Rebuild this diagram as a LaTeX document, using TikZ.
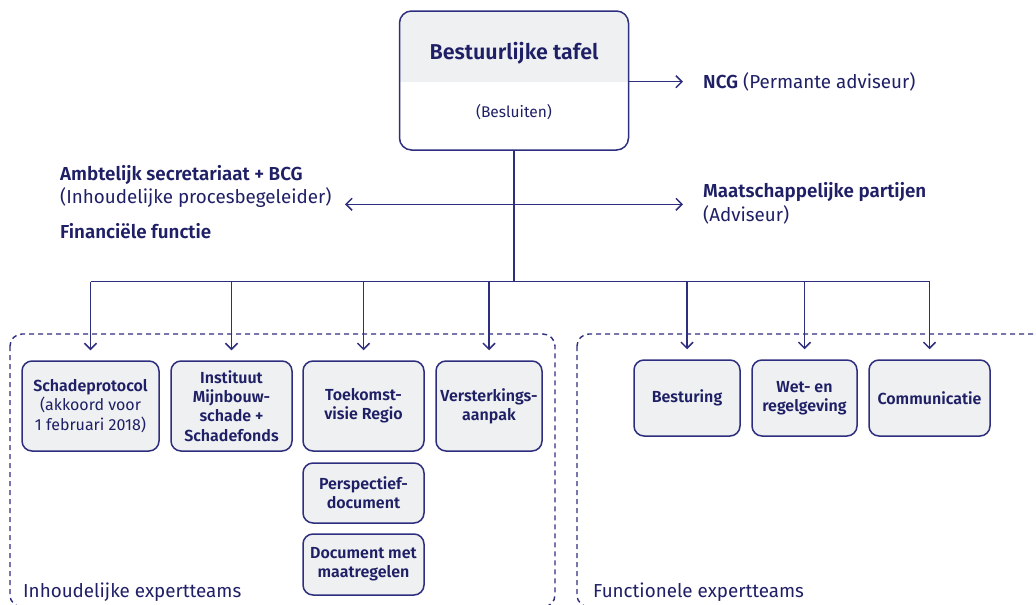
\documentclass[tikz,border=0pt]{standalone}
\usepackage{fontspec}
\IfFontExistsTF{Fira Sans SemiBold}
  {\setmainfont{Fira Sans}[BoldFont={Fira Sans SemiBold}]}
  {\setmainfont{Fira Sans}}
\usetikzlibrary{arrows.meta}
\definecolor{navy}{HTML}{1F1F66}
\definecolor{linec}{HTML}{2E2E7E}
\definecolor{boxfill}{HTML}{EEF0F1}
\begin{document}
\begin{tikzpicture}[x=1pt,y=-1pt,
  team/.style={draw=linec, fill=boxfill, rounded corners=10pt, line width=1.5pt,
    text=navy, font=\fontsize{16}{19.3}\selectfont, align=center, inner sep=2pt},
  conn/.style={draw=linec, line width=1.5pt},
  tip/.tip={Straight Barb[length=6pt,width=12pt]},
  arr/.style={conn, -tip},
  lbl/.style={text=navy, inner sep=0pt, anchor=west, font=\fontsize{18.8}{22}\selectfont},
  grp/.style={draw=linec, line width=1.4pt, dash pattern=on 5pt off 4pt, rounded corners=12pt}
]
\useasboundingbox (0,0) rectangle (1036,605);
\clip (0,0) rectangle (1036,605);

% group frames
\draw[grp] (10,334) rectangle (555,607);
\draw[grp] (577,334) rectangle (1050,607);
\node[lbl] (inhlbl) at (23,592) {Inhoudelijke expertteams};
\node[lbl] (funlbl) at (593,592) {Functionele expertteams};

% top box
\begin{scope}
  \clip[rounded corners=12pt] (399.5,11) rectangle (628.5,150);
  \fill[boxfill] (399.5,11) rectangle (628.5,81.7);
\end{scope}
\node[draw=linec, line width=1.5pt, rounded corners=12pt, minimum width=229pt,
  minimum height=139pt, inner sep=0pt] (top) at (514,80.5) {};
\node[text=navy, font=\bfseries\fontsize{21.5}{25}\selectfont] (toptitle) at (514,53) {Bestuurlijke tafel};
\node[text=navy, font=\fontsize{15.5}{18}\selectfont] (topsub) at (514,112) {(Besluiten)};

% side texts
\node[lbl] (ncg) at (703,81.7) {\textbf{NCG} (Permante adviseur)};
\node[lbl] (maat) at (703,192) {\textbf{Maatschappelijke partijen}};
\node[lbl] (adv) at (703,215) {(Adviseur)};
\node[lbl] (amb) at (60,175) {\textbf{Ambtelijk secretariaat + BCG}};
\node[lbl] (inh) at (60,198) {(Inhoudelijke procesbegeleider)};
\node[lbl] (fin) at (60,231) {\textbf{Financiële functie}};

\coordinate (ncgend) at (683,81.7);
\draw[arr] (top.east |- ncgend) -- (ncgend);
\coordinate (dl) at (345,204.3);
\coordinate (dr) at (683,204.3);
\draw[conn, tip-tip] (dl) -- (dr);

% expert team boxes
\node[team, minimum width=137pt, minimum height=90pt] (s1) at (90.5,406)
  {\textbf{Schadeprotocol}\\(akkoord voor\\1 februari 2018)};
\node[team, minimum width=121pt, minimum height=90pt] (s2) at (231.5,406)
  {\textbf{Instituut}\\\textbf{Mijnbouw-}\\\textbf{schade +}\\\textbf{Schadefonds}};
\node[team, minimum width=121pt, minimum height=90pt] (s3) at (363.5,406)
  {\textbf{Toekomst-}\\\textbf{visie Regio}};
\node[team, minimum width=106pt, minimum height=90pt] (s4) at (489,406)
  {\textbf{Versterkings-}\\\textbf{aanpak}};
\node[team, minimum width=121pt, minimum height=60pt] (s5) at (363.5,493)
  {\textbf{Perspectief-}\\\textbf{document}};
\node[team, minimum width=121pt, minimum height=61pt] (s6) at (363.5,564.5)
  {\textbf{Document met}\\\textbf{maatregelen}};
\node[team, minimum width=106pt, minimum height=76pt] (f1) at (687,398)
  {\textbf{Besturing}};
\node[team, minimum width=105pt, minimum height=76pt] (f2) at (804.5,398)
  {\textbf{Wet- en}\\\textbf{regelgeving}};
\node[team, minimum width=121pt, minimum height=76pt] (f3) at (929.5,398)
  {\textbf{Communicatie}};

% tree connectors
\coordinate (bus) at (514,281.7);
\draw[conn] (top.south) -- (bus);
\draw[conn] (s1.north |- bus) -- (f3.north |- bus);
\foreach \b in {s1,s2,s3,s4,f1,f2,f3}
  \draw[arr, shorten >=10pt] (\b.north |- bus) -- (\b.north);
\end{tikzpicture}
\end{document}
